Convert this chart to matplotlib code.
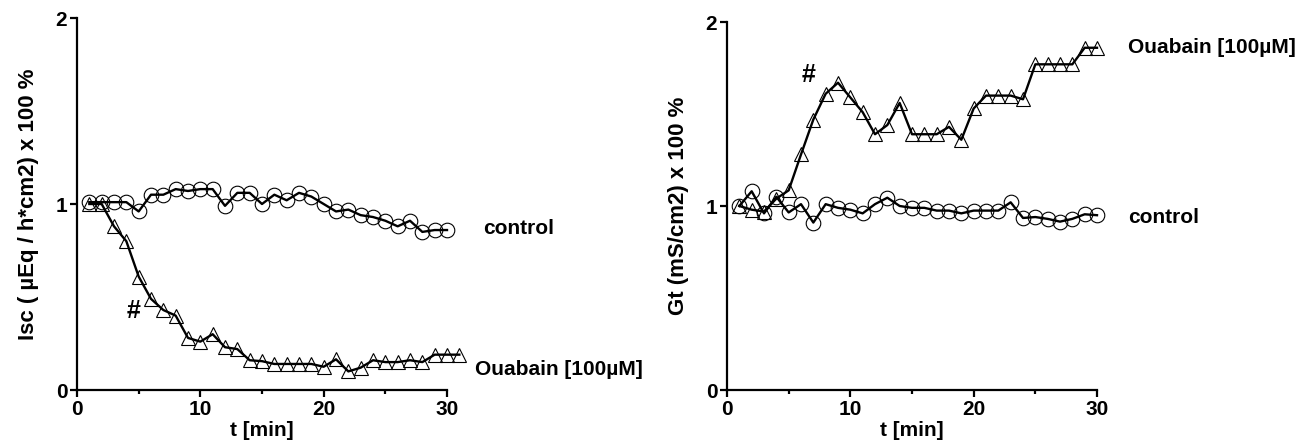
import matplotlib
matplotlib.use("Agg")
import matplotlib.pyplot as plt
from matplotlib.ticker import MultipleLocator

plt.rcParams['font.family'] = ['Liberation Sans', 'DejaVu Sans']
plt.rcParams['font.weight'] = 'bold'

# ---- data ----
t_isc_control = list(range(1, 31))
isc_control = [1.01, 1.01, 1.01, 1.01, 0.96, 1.05, 1.05, 1.08, 1.07, 1.08,
               1.08, 0.99, 1.06, 1.06, 1.00, 1.05, 1.02, 1.06, 1.04, 1.00,
               0.96, 0.97, 0.94, 0.93, 0.91, 0.88, 0.91, 0.85, 0.86, 0.86]
t_isc_ouabain = list(range(1, 32))
isc_ouabain = [1.00, 1.00, 0.88, 0.80, 0.61, 0.49, 0.43, 0.40, 0.28, 0.26,
               0.30, 0.23, 0.22, 0.16, 0.155, 0.14, 0.14, 0.14, 0.14, 0.125,
               0.165, 0.10, 0.12, 0.16, 0.15, 0.15, 0.16, 0.15, 0.19, 0.19, 0.19]

t_gt = list(range(1, 31))
gt_control = [1.00, 1.08, 0.96, 1.05, 0.965, 1.01, 0.91, 1.01, 0.99, 0.98,
              0.96, 1.01, 1.045, 1.00, 0.99, 0.99, 0.975, 0.975, 0.96, 0.975,
              0.975, 0.975, 1.02, 0.935, 0.94, 0.93, 0.915, 0.93, 0.955, 0.95]
gt_ouabain = [1.00, 0.98, 0.97, 1.04, 1.085, 1.28, 1.47, 1.61, 1.67, 1.59,
              1.51, 1.39, 1.44, 1.56, 1.39, 1.39, 1.39, 1.43, 1.36, 1.53,
              1.60, 1.60, 1.60, 1.58, 1.77, 1.77, 1.77, 1.77, 1.86, 1.86]

x_ticks = [0, 10, 20, 30]
y_ticks = [0, 1, 2]
xlabel = "t [min]"
ylabel_left = "Isc ( µEq / h*cm2) x 100 %"
ylabel_right = "Gt (mS/cm2) x 100 %"
lbl_control = "control"
lbl_ouabain = "Ouabain [100µM]"

W, H = 1311, 443
fig = plt.figure(figsize=(W / 100, H / 100), dpi=100)

ax1 = fig.add_axes([77 / W, 1 - 390 / H, 370 / W, 372 / H])
ax2 = fig.add_axes([727 / W, 1 - 390 / H, 370 / W, 368 / H])

FS = 15
line_kw = dict(color='black', lw=1.7, mfc='none', mec='black', mew=0.8, clip_on=False, zorder=3)


def style(ax, ylabel):
    ax.set_xlim(0, 30)
    ax.set_ylim(0, 2)
    for s in ['top', 'right']:
        ax.spines[s].set_visible(False)
    for s in ['left', 'bottom']:
        ax.spines[s].set_linewidth(1.6)
    ax.set_xticks(x_ticks)
    ax.set_yticks(y_ticks)
    ax.xaxis.set_minor_locator(MultipleLocator(5))
    ax.tick_params(axis='both', which='major', direction='out', length=5, width=1.6,
                   labelsize=FS, pad=2)
    ax.tick_params(axis='x', which='minor', direction='out', length=3, width=1.6)
    for lab in ax.get_xticklabels() + ax.get_yticklabels():
        lab.set_fontweight('bold')
    ax.set_xlabel(xlabel, fontsize=FS, fontweight='bold', labelpad=2)
    ax.set_ylabel(ylabel, fontsize=16, fontweight='bold', labelpad=12)


ax1.plot(t_isc_control, isc_control, marker='o', ms=10.5, **line_kw)
ax1.plot(t_isc_ouabain, isc_ouabain, marker='^', ms=10.5, **line_kw)
style(ax1, ylabel_left)
ax1.text(32.9, 0.87, lbl_control, fontsize=FS, fontweight='bold', va='center', ha='left')
ax1.text(32.3, 0.11, lbl_ouabain, fontsize=FS, fontweight='bold', va='center', ha='left')
ax1.text(4.6, 0.425, "#", fontsize=18, fontweight='bold', va='center', ha='center')

ax2.plot(t_gt, gt_control, marker='o', ms=10.5, **line_kw)
ax2.plot(t_gt, gt_ouabain, marker='^', ms=10.5, **line_kw)
style(ax2, ylabel_right)
ax2.text(32.5, 0.94, lbl_control, fontsize=FS, fontweight='bold', va='center', ha='left')
ax2.text(32.5, 1.86, lbl_ouabain, fontsize=FS, fontweight='bold', va='center', ha='left')
ax2.text(6.6, 1.71, "#", fontsize=18, fontweight='bold', va='center', ha='center')

fig.savefig("out.png", dpi=100)
